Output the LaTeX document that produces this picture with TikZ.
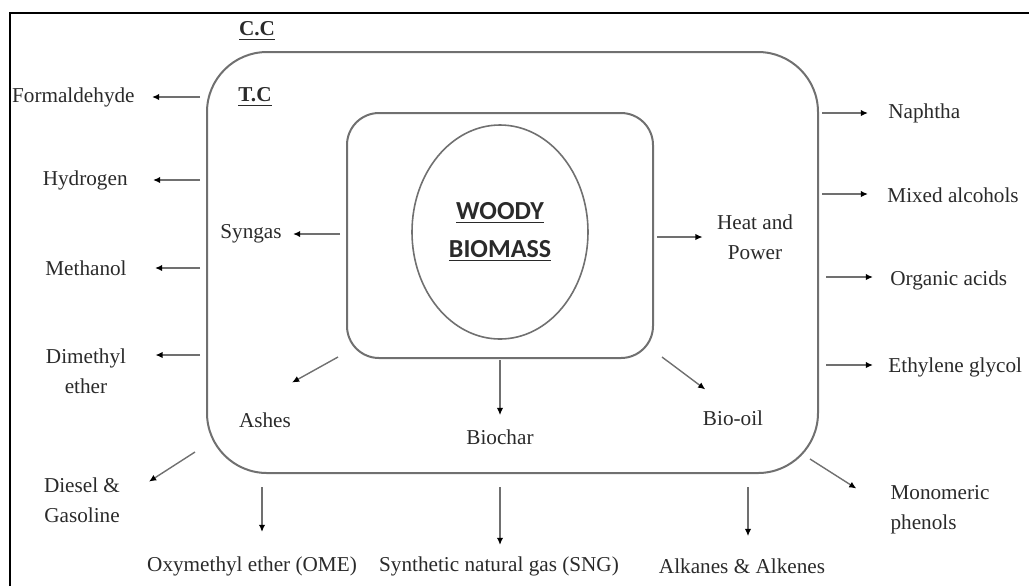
\documentclass[tikz,border=0pt]{standalone}
\usepackage{fontspec}
\setmainfont{Liberation Serif}
\newfontfamily\woodyfont{Carlito}
\usetikzlibrary{arrows.meta, shapes.geometric}
\definecolor{ln}{HTML}{707070}
\definecolor{tx}{HTML}{2A2A2A}
\tikzset{ lbl/.style = { inner sep    = 0pt
                       , text         = tx
                       , font         = \fontsize{10.6}{15}\selectfont
                       , align        = center
                       },
          hd/.style  = { lbl
                       , font         = \fontsize{10.6}{15}\selectfont\bfseries
                       },
          ar/.style  = { draw         = ln
                       , line width   = 0.7pt
                       , -{Latex[length=3.6pt, width=3.2pt, black]}
                       },
          rbox/.style = { rectangle
                        , draw        = ln
                        , line width  = 1pt
                        , rounded corners = 30pt
                        }
        }

\begin{document}
\begin{tikzpicture}[x=0.5pt, y=-0.5pt]
    \useasboundingbox (0,0) rectangle (1029,586);
    \draw[line width=1.2pt] (10,586) -- (10,13) -- (1029,13);

    % boxes
    \node[rbox, minimum width=305.5pt, minimum height=210.5pt] (tc) at (512.5,262.5) {};
    \node[rbox, rounded corners=16pt, minimum width=153pt, minimum height=122.5pt] (core) at (500,235.5) {};
    \node[ellipse, draw=ln, line width=0.8pt, inner sep=0pt
          , minimum width=88pt, minimum height=107pt
          , align=center, text=tx
          , font=\woodyfont\bfseries\fontsize{13}{19}\selectfont] (wb) at (500,232)
          {\underline{WOODY}\\\underline{BIOMASS}};

    \node[hd] (cc) at (257,31) {\underline{C.C}};
    \node[hd] (tcl) at (255,97) {\underline{T.C}};

    % inner products
    \node[lbl] (syn) at (251,234) {Syngas};
    \node[lbl] (hp)  at (755,237) {Heat and\\Power};
    \node[lbl] (ash) at (265,420) {Ashes};
    \node[lbl] (bc)  at (500,437) {Biochar};
    \node[lbl] (bo)  at (733,418) {Bio-oil};

    % outer products
    \node[lbl, anchor=east] (form)  at (135,97)  {Formaldehyde};
    \node[lbl, anchor=east] (hyd)   at (128,180) {Hydrogen};
    \node[lbl, anchor=east] (meth)  at (127,268) {Methanol};
    \node[lbl]              (dme)   at (86,371)  {Dimethyl\\ether};
    \node[lbl]              (dg)    at (82,500)  {Diesel \&\\Gasoline};
    \node[lbl]              (ome)   at (252,566) {Oxymethyl ether (OME)};
    \node[lbl]              (sng)   at (499,566) {Synthetic natural gas (SNG)};
    \node[lbl]              (alk)   at (742,566) {Alkanes \& Alkenes};
    \node[lbl, align=left]  (mono)  at (940,510) {Monomeric\\phenols};
    \node[lbl, anchor=west] (naph)  at (888,113) {Naphtha};
    \node[lbl, anchor=west] (mixed) at (887,195) {Mixed alcohols};
    \node[lbl, anchor=west] (org)   at (890,280) {Organic acids};
    \node[lbl, anchor=west] (eth)   at (888,367) {Ethylene glycol};

    \coordinate (syn0)   at (340,234);
    \coordinate (hp0)    at (657,237);
    \coordinate (ash0)   at (338,357);
    \coordinate (bc0)    at (500,360);
    \coordinate (bo0)    at (662,357);
    \coordinate (form0)  at (200,97);
    \coordinate (hyd0)   at (200,180);
    \coordinate (meth0)  at (200,268);
    \coordinate (dme0)   at (200,355);
    \coordinate (dg0)    at (195,452);
    \coordinate (ome0)   at (262,487);
    \coordinate (sng0)   at (500,487);
    \coordinate (alk0)   at (748,487);
    \coordinate (mono0)  at (810,459);
    \coordinate (naph0)  at (822,113);
    \coordinate (mixed0) at (822,194);
    \coordinate (org0)   at (826,277);
    \coordinate (eth0)   at (826,365);

    \draw[ar, shorten >=5.5pt]  (syn0) -- (syn0 -| syn.east);
    \draw[ar, shorten >=7pt]    (hp0) -- (hp0 -| hp.west);
    \draw[ar, shorten >=30.5pt] (ash0) -- (ash.north west);
    \draw[ar, shorten >=7pt]    (bc0) -- (bc.north);
    \draw[ar, shorten >=17.3pt] (bo0) -- (bo.north);

    \draw[ar, shorten >=8.5pt]  (form0) -- (form0 -| form.east);
    \draw[ar, shorten >=12.5pt] (hyd0) -- (hyd0 -| hyd.east);
    \draw[ar, shorten >=14pt]   (meth0) -- (meth0 -| meth.east);
    \draw[ar, shorten >=14.5pt] (dme0) -- (dme0 -| dme.east);
    \draw[ar, shorten >=17pt]   (dg0) -- (dg.east);
    \draw[ar, shorten >=12pt]   (ome0) -- (ome0 |- ome.north);
    \draw[ar, shorten >=5.5pt]  (sng0) -- (sng0 |- sng.north);
    \draw[ar, shorten >=11pt]   (alk0) -- (alk0 |- alk.north);
    \draw[ar, shorten >=20pt]   (mono0) -- (mono.west);
    \draw[ar, shorten >=10pt]   (naph0) -- (naph0 -| naph.west);
    \draw[ar, shorten >=9.5pt]  (mixed0) -- (mixed0 -| mixed.west);
    \draw[ar, shorten >=8.5pt]  (org0) -- (org0 -| org.west);
    \draw[ar, shorten >=7.5pt]  (eth0) -- (eth0 -| eth.west);
\end{tikzpicture}
\end{document}
